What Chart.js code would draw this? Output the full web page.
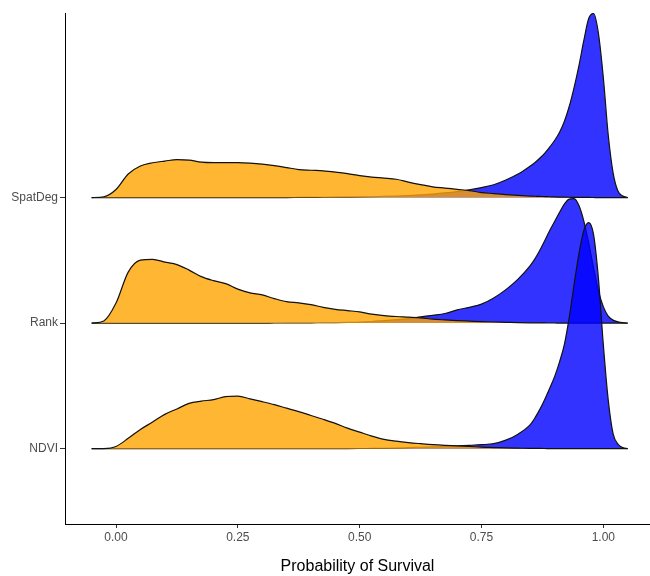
<!DOCTYPE html>
<html>
<head>
<meta charset="utf-8">
<script src="https://cdn.jsdelivr.net/npm/chart.js@4"></script>
<style>
html,body{margin:0;padding:0;background:#fff;}
#wrap{width:650px;height:576px;position:relative;}
</style>
</head>
<body>
<div id="wrap"><canvas id="c"></canvas></div>
<script>
// Categories (bottom to top)
const models = ['NDVI', 'Rank', 'SpatDeg'];
// x-axis tick labels
const xTicks = [0, 0.25, 0.5, 0.75, 1.0];
// Shared evaluation grid for the density curves (probability of survival)
const survivalGrid = [
  -0.05,-0.025,0,0.025,0.05,0.075,0.1,0.125,0.15,0.175,0.2,0.225,0.25,0.275,0.3,0.325,0.35,0.375,0.4,0.425,
  0.45,0.475,0.5,0.525,0.55,0.575,0.6,0.625,0.65,0.675,0.7,0.725,0.75,0.775,0.8,0.825,0.85,
  0.86,0.87,0.88,0.89,0.9,0.91,0.92,0.93,0.94,0.95,0.96,0.97,0.98,0.99,1.0,1.01,1.02,1.03,1.04,1.05
];
// Relative density heights (orange group)
const ndviOrange = [
  0,0.1,2.2,10.3,19.2,26.6,34.3,39.7,45.3,47.5,49,52,52.5,49.8,47,44,40.5,37,33.2,29.4,
  25.3,20.5,16.5,12.5,9.3,7.5,6.1,5,4,3.3,2.8,2.2,1.5,1.1,0.7,0.5,0.3,
  0.25,0.2,0.15,0.1,0.1,0.05,0.05,0,0,0,0,0,0,0,0,0,0,0,0,0
];
const rankOrange = [
  0,2.2,20,51,63,63.8,61,58.5,53,46.5,42.5,39.5,34,30.3,28.2,24.5,21.5,20.3,18.5,15.8,
  13.8,12.5,11.2,9,7.5,6.6,6,5.3,4,3.2,2.5,2,1.5,1.1,0.8,0.5,0.3,
  0.25,0.2,0.15,0.1,0.1,0.05,0.05,0,0,0,0,0,0,0,0,0,0,0,0,0
];
const spatDegOrange = [
  0,0.8,8,23.5,31.5,34.8,36.5,38,37.5,35.5,35,35,35,34.5,33.5,32,30,28,27.3,26.7,
  25.5,24,22,20.5,19.5,18.3,15.5,13,10.7,9.5,8.2,7,5,4,3,2.2,1.5,
  1.3,1.1,1,0.8,0.6,0.5,0.4,0.3,0.2,0.2,0.1,0.1,0.05,0,0,0,0,0,0,0
];
// Relative density heights (blue group)
const ndviBlue = [
  0,0,0,0,0,0,0,0,0,0,0,0,0,0,0,0,0,0,0,0,
  0,0.1,0.15,0.2,0.3,0.6,1,1.4,1.8,2.2,2.7,3.3,4,5,8.5,14.5,24,
  31,39.5,49.5,60.5,72,86.5,104,131,164,195,218,226,214,170,104,49,15,4.5,1,0
];
const rankBlue = [
  0,0,0,0,0,0,0,0,0,0,0,0,0,0,0,0.1,0.15,0.2,0.3,0.4,
  0.5,0.7,1,1.6,2.5,3.4,4.5,6.2,7.8,9.6,13.2,15.8,19,25.2,33.5,44,57.5,
  64.5,73,82.5,92.5,101.5,110.5,119,124,124.5,117.5,102,80,55,32,16.5,7,3,1.3,0.4,0
];
const spatDegBlue = [
  0,0,0,0,0,0,0,0,0,0,0,0,0,0,0,0,0,0.1,0.2,0.3,
  0.4,0.5,0.6,0.8,1.1,1.5,2,2.7,3.5,4.6,6,7.8,10,12.8,17.5,23.5,31.5,
  35,39.5,44.5,50.5,57,65,76,91,110,132,157,179,184,164,120,63,25,6.5,1.5,0
];

const densityToRow = 1 / 125.5; // ridge scale: relative density -> row units

const ORANGE = 'rgba(255,165,0,0.8)';
const BLUE = 'rgba(0,0,255,0.8)';

function ridge(values, base, color, order) {
  return {
    data: survivalGrid.map((x, i) => ({ x: x, y: base + values[i] * densityToRow })),
    fill: { value: base },
    backgroundColor: color,
    borderColor: '#111',
    borderWidth: 1.2,
    pointRadius: 0,
    cubicInterpolationMode: 'monotone',
    order: order
  };
}

const datasets = [
  ridge(spatDegBlue, 3, BLUE, 6),
  ridge(spatDegOrange, 3, ORANGE, 5),
  ridge(rankBlue, 2, BLUE, 4),
  ridge(rankOrange, 2, ORANGE, 3),
  ridge(ndviBlue, 1, BLUE, 2),
  ridge(ndviOrange, 1, ORANGE, 1)
];

Chart.defaults.font.family = '"Liberation Sans", Arial, sans-serif';

new Chart(document.getElementById('c'), {
  type: 'line',
  data: { datasets: datasets },
  options: {
    responsive: true,
    maintainAspectRatio: false,
    animation: false,
    layout: { padding: { top: 13, right: 0, bottom: 0, left: 0 } },
    plugins: { legend: { display: false }, tooltip: { enabled: false } },
    scales: {
      x: {
        type: 'linear',
        min: -0.1047,
        max: 1.0958,
        afterBuildTicks: s => { s.ticks = xTicks.map(v => ({ value: v })); },
        afterFit: s => { s.height = 52; },
        ticks: {
          callback: v => Number(v).toFixed(2),
          color: '#4d4d4d',
          font: { size: 12 },
          padding: 2,
          maxRotation: 0,
          autoSkip: false
        },
        grid: { display: true, drawOnChartArea: false, drawTicks: true, tickLength: 4, tickWidth: 1, tickColor: '#333' },
        border: { display: true, color: '#000', width: 1 },
        title: {
          display: true,
          text: 'Probability of Survival',
          color: '#000',
          font: { size: 16 },
          padding: { top: 0, bottom: 0 }
        }
      },
      y: {
        type: 'linear',
        min: 0.4,
        max: 4.47,
        afterBuildTicks: s => { s.ticks = [1, 2, 3].map(v => ({ value: v })); },
        afterFit: s => { s.width = 65; },
        ticks: {
          callback: v => models[Math.round(v) - 1],
          color: '#4d4d4d',
          font: { size: 12 },
          padding: 2
        },
        grid: { display: true, drawOnChartArea: false, drawTicks: true, tickLength: 5, tickWidth: 1, tickColor: '#333' },
        border: { display: true, color: '#000', width: 1 }
      }
    }
  }
});
</script>
</body>
</html>
